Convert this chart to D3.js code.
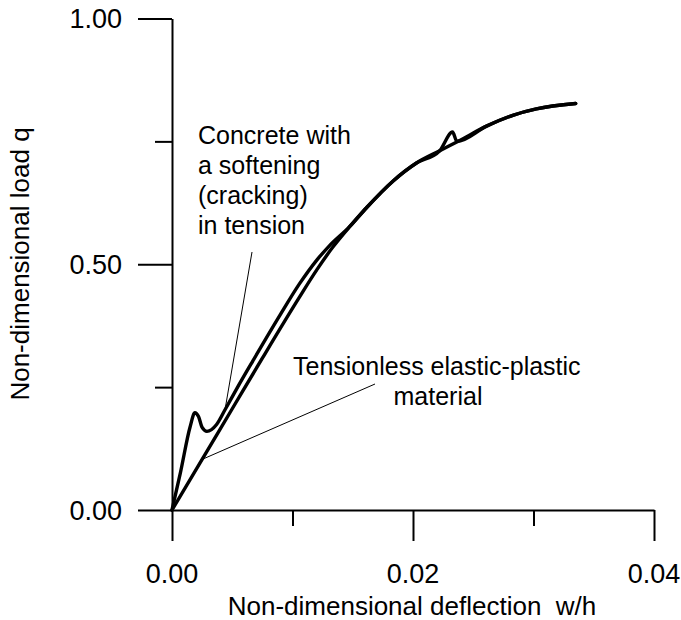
<!DOCTYPE html>
<html>
<head>
<meta charset="utf-8">
<script src="https://cdn.jsdelivr.net/npm/d3@7/dist/d3.min.js"></script>
<style>
body{margin:0;background:#fff;}
text{font-family:"Liberation Sans",Arial,sans-serif;fill:#000;}
</style>
</head>
<body>
<div id="graph"></div>
<script>
// tensionless elastic-plastic material
tensionX=[0,0.0025,0.005,0.0075,0.0105,0.0120,0.01335,0.01476,0.01614,0.01833,0.02029,0.02222,0.02388,0.0261,0.02828,0.03024,0.0335];
tensionY=[0,0.103,0.206,0.309,0.430,0.488,0.535,0.577,0.615,0.669,0.706,0.731,0.752,0.781,0.803,0.816,0.827];

// concrete with softening (cracking) in tension
concreteX=[0,0.0007,0.0015,0.0019,0.0022,0.0025,0.0029,0.0037,0.0044,0.0054,0.0067,0.0090,0.0106,0.0120,0.0130,0.01476,0.01614,0.01833,0.02029,0.02222,0.02328,0.02365,0.0261,0.02828,0.03024,0.0335];
concreteY=[0,0.076,0.169,0.198,0.190,0.168,0.160,0.174,0.204,0.248,0.303,0.398,0.461,0.508,0.536,0.577,0.615,0.669,0.706,0.731,0.769,0.750,0.781,0.803,0.816,0.827];

xMajor=[0,0.02,0.04];
xMajorLabels=["0.00","0.02","0.04"];
xMinor=[0.01,0.03];
yMajor=[0,0.5,1.0];
yMajorLabels=["0.00","0.50","1.00"];
yMinor=[0.25,0.75];

xTitle="Non-dimensional deflection  w/h";
yTitle="Non-dimensional load q";
noteConcrete=["Concrete with","a softening","(cracking)","in tension"];
noteTension=["Tensionless elastic-plastic","material"];

//全域設定
width=681;
height=620;
x0=172; x1=654;
y0=510; y1=18.5;

main=function(){
	$svg=d3.select('#graph').append('svg').attr('width',width).attr('height',height);

	x=d3.scaleLinear().domain([0,0.04]).range([x0,x1]);
	y=d3.scaleLinear().domain([0,1]).range([y0,y1]);

	//x軸
	$svg.append('g').attr('transform','translate(0,'+y0+')')
		.call(d3.axisBottom(x).tickValues(xMajor).tickSize(31).tickSizeOuter(0).tickFormat(''))
		.call(function(g){g.select('.domain').attr('stroke-width',2);g.selectAll('.tick line').attr('stroke-width',2);});
	$svg.append('g').attr('transform','translate(0,'+y0+')')
		.call(d3.axisBottom(x).tickValues(xMinor).tickSize(16).tickSizeOuter(0).tickFormat(''))
		.call(function(g){g.select('.domain').remove();g.selectAll('.tick line').attr('stroke-width',2);});

	//y軸
	$svg.append('g').attr('transform','translate('+x0+',0)')
		.call(d3.axisLeft(y).tickValues(yMajor).tickSize(34).tickSizeOuter(0).tickFormat(''))
		.call(function(g){g.select('.domain').attr('stroke-width',2);g.selectAll('.tick line').attr('stroke-width',2);});
	$svg.append('g').attr('transform','translate('+x0+',0)')
		.call(d3.axisLeft(y).tickValues(yMinor).tickSize(17).tickSizeOuter(0).tickFormat(''))
		.call(function(g){g.select('.domain').remove();g.selectAll('.tick line').attr('stroke-width',2);});

	//刻度文字
	$svg.append('g').selectAll('text').data(xMajor).enter().append('text')
		.text(function(d,i){return xMajorLabels[i]})
		.attr('x',function(d){return x(d)})
		.attr('y',583)
		.attr('text-anchor','middle')
		.attr('font-size',27);
	$svg.append('g').selectAll('text').data(yMajor).enter().append('text')
		.text(function(d,i){return yMajorLabels[i]})
		.attr('x',122)
		.attr('y',function(d){return y(d)})
		.attr('dy','0.36em')
		.attr('text-anchor','end')
		.attr('font-size',27);

	//軸標題
	$svg.append('text').text(xTitle)
		.attr('x',412).attr('y',615)
		.attr('text-anchor','middle')
		.attr('font-size',26)
		.style('white-space','pre');
	$svg.append('text').text(yTitle)
		.attr('transform','translate(29,264) rotate(-90)')
		.attr('text-anchor','middle')
		.attr('font-size',26);

	//曲線
	line=d3.line().x(function(d){return x(d[0])}).y(function(d){return y(d[1])}).curve(d3.curveMonotoneX);
	tension=tensionX.map(function(d,i){return [d,tensionY[i]]});
	concrete=concreteX.map(function(d,i){return [d,concreteY[i]]});
	[tension,concrete].forEach(function(arr){
		$svg.append('path').datum(arr).attr('d',line)
			.attr('fill','none').attr('stroke','#000')
			.attr('stroke-width',3.4).attr('stroke-linejoin','round').attr('stroke-linecap','round');
	});

	//註解
	$svg.append('g').selectAll('text').data(noteConcrete).enter().append('text')
		.text(function(d){return d})
		.attr('x',198)
		.attr('y',function(d,i){return 144+i*30})
		.attr('font-size',25);
	$svg.append('text').text(noteTension[0]).attr('x',293).attr('y',375).attr('font-size',25);
	$svg.append('text').text(noteTension[1]).attr('x',438).attr('y',405).attr('text-anchor','middle').attr('font-size',25);

	//指引線
	$svg.append('line').attr('x1',252).attr('y1',252).attr('x2',x(0.0044)).attr('y2',y(0.204))
		.attr('stroke','#000').attr('stroke-width',1);
	$svg.append('line').attr('x1',375).attr('y1',384).attr('x2',x(0.0025)).attr('y2',y(0.103))
		.attr('stroke','#000').attr('stroke-width',1);
};

main();
</script>
</body>
</html>
